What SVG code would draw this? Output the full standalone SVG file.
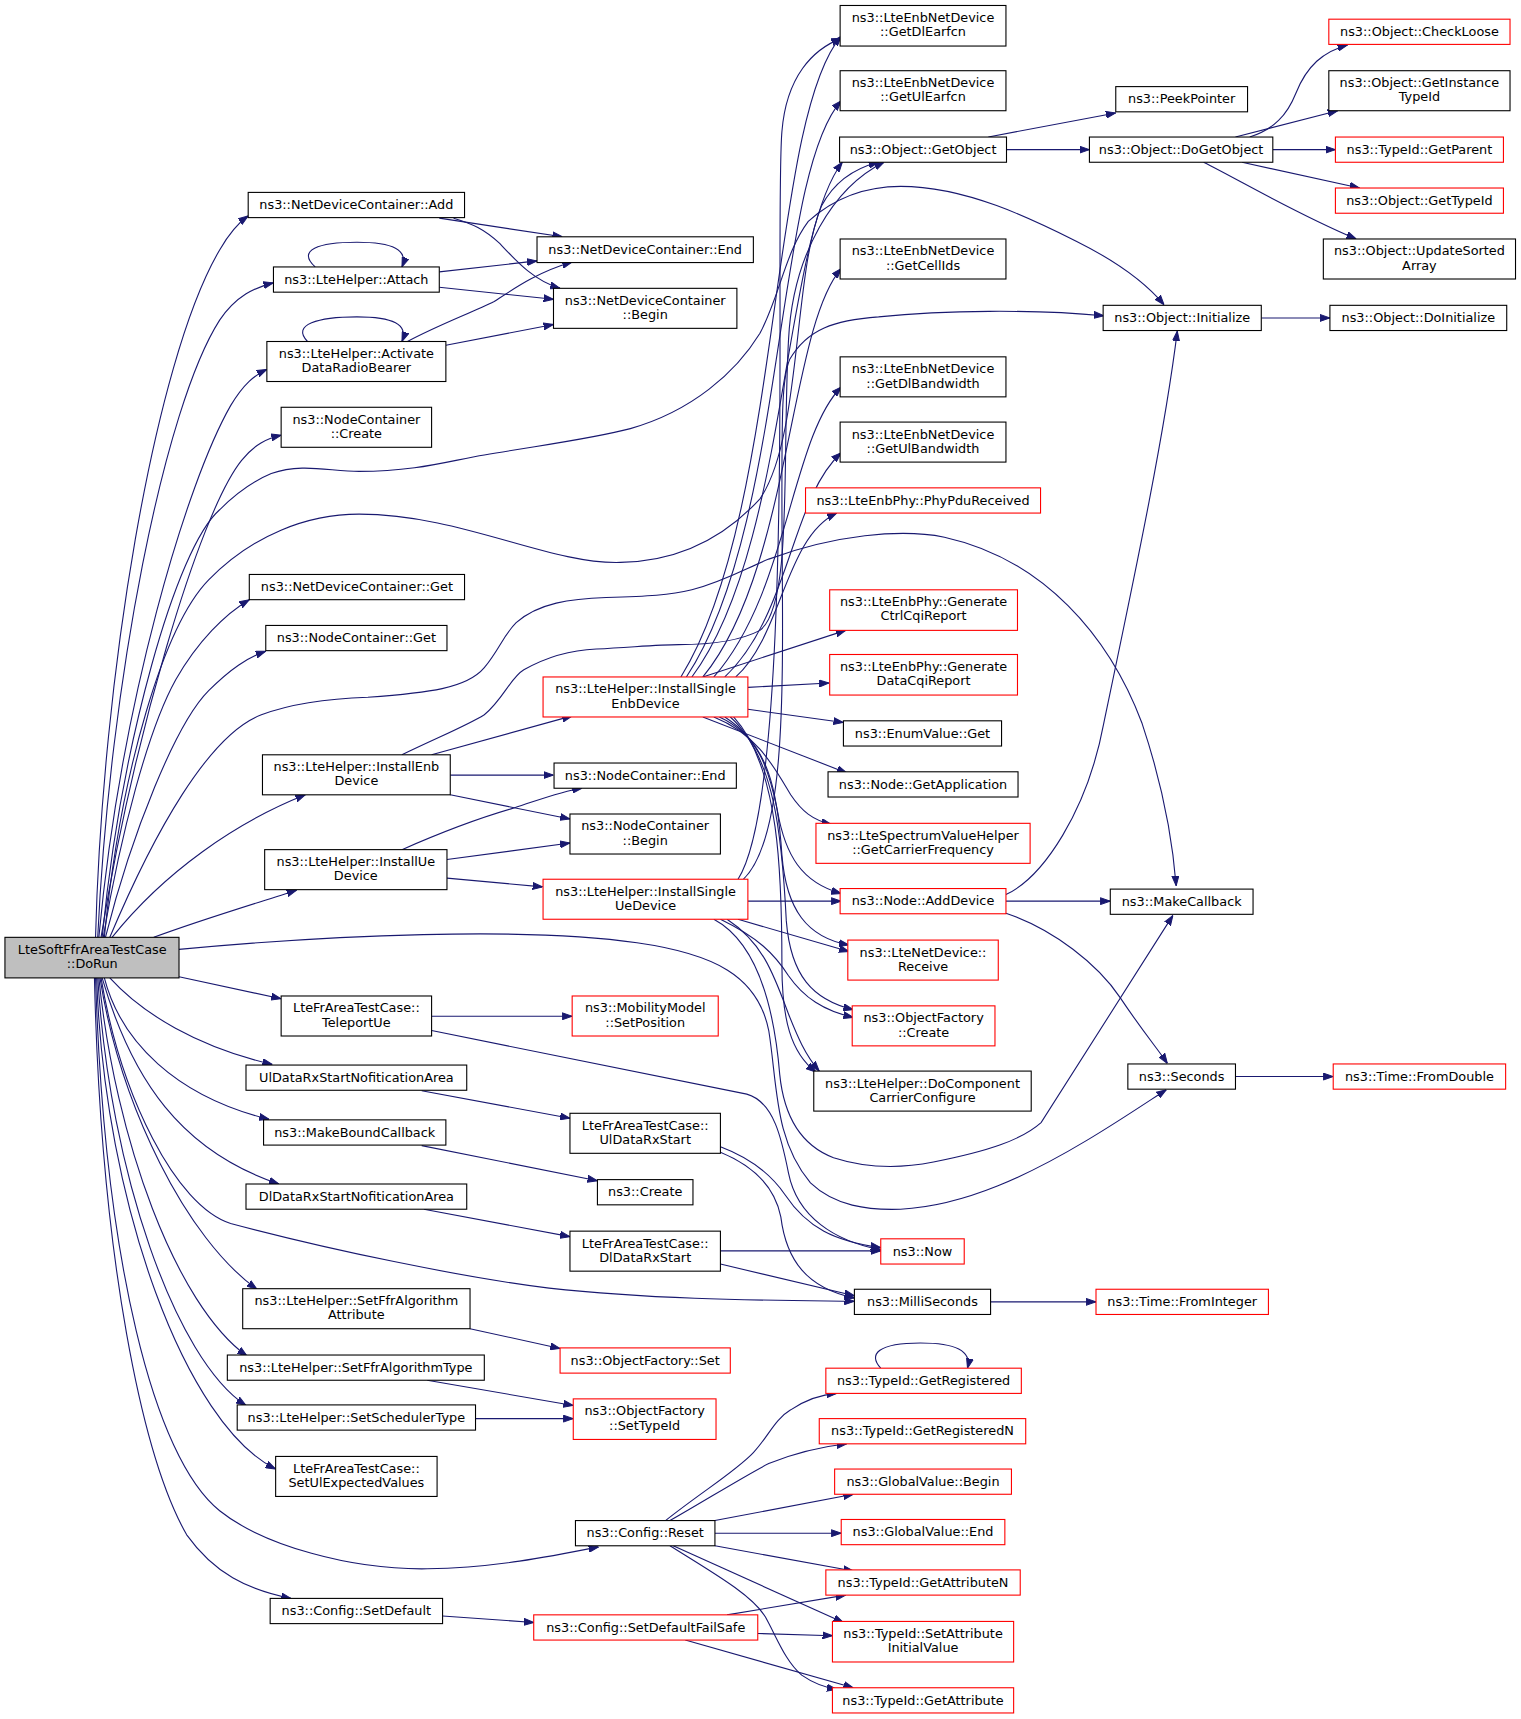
<svg xmlns="http://www.w3.org/2000/svg" width="1521" height="1719" viewBox="0 0 1521 1719">
<style>
.n rect{fill:#fff;stroke:#000;stroke-width:1}
.n.r rect{stroke:#f00}
.n.g rect{fill:#bfbfbf}
#edges path{fill:none;stroke:#191970;stroke-width:1;marker-end:url(#a)}
text{font-family:"DejaVu Sans",sans-serif;font-size:11.7px;text-anchor:middle;fill:#000}
</style>
<defs>
<marker id="a" viewBox="0 0 10 8" refX="10" refY="4" markerWidth="9" markerHeight="7.2" markerUnits="userSpaceOnUse" orient="auto">
<path d="M0,0.5 L10,4 L0,7.5z" fill="#191970" stroke="#191970" stroke-width="1"/>
</marker>
</defs>
<rect x="0" y="0" width="1521" height="1719" fill="#fff"/>
<g transform="scale(1.0982,1.0963)">
<g id="edges">
<path d="M87,855 C93,620 140,330 200,228 C208,214 216,204 226,197"/>
<path d="M89,855 C100,620 150,370 200,292 C215,270 232,262 249,258"/>
<path d="M90,855 C110,640 170,440 210,370 C222,350 232,342 243,337"/>
<path d="M92,855 C120,680 180,470 220,420 C232,405 243,400 256,397"/>
<path d="M93,855 C110,680 160,500 200,465 C220,445 235,437 247,432 C275,422 300,430 327,430 C380,430 410,420 441,415 C500,405 540,400 574,391 C630,375 670,340 692,304 C710,270 715,230 736,202 C760,180 790,170 820,170 C880,170 940,200 980,220 C1020,240 1045,260 1060,278"/>
<path d="M95,855 C110,700 150,570 190,529 C230,488 280,469 327,469 C420,469 500,515 565,513 C620,512 660,490 692,455 C730,400 722,250 748,188 C760,165 780,153 800,148"/>
<path d="M100,855 C140,760 190,670 238,652 C270,640 305,637 335,636 C390,632 425,628 441,609 C455,592 458,580 470,568 C490,550 520,546 552,545 C590,544 610,543 630,538 C660,530 680,518 700,510 C760,488 820,482 860,490 C950,510 1010,580 1040,660 C1060,720 1068,770 1071,808"/>
<path d="M94,855 C110,760 135,665 160,620 C180,585 205,560 227,547"/>
<path d="M96,855 C120,760 160,660 190,630 C210,610 225,600 242,594"/>
<path d="M102,855 C150,795 215,750 278,725"/>
<path d="M140,855 C180,840 230,825 270,812"/>
<path d="M163,891 L256,911"/>
<path d="M100,892 C130,925 180,955 248,971"/>
<path d="M95,892 C110,950 160,1000 245,1021"/>
<path d="M93,892 C120,985 165,1050 254,1080"/>
<path d="M92,892 C110,1000 160,1100 210,1116 C300,1140 420,1165 500,1175 C600,1186 700,1186 778,1187"/>
<path d="M91,892 C110,1010 170,1130 234,1176"/>
<path d="M90,892 C105,1040 160,1190 225,1237"/>
<path d="M89,892 C100,1070 160,1240 224,1282"/>
<path d="M88,892 C95,1100 170,1300 251,1340"/>
<path d="M87,892 C95,1150 140,1330 200,1378 C240,1410 320,1432 389,1431 C450,1430 500,1420 545,1411"/>
<path d="M86,892 C92,1150 130,1330 170,1400 C195,1435 225,1450 265,1458"/>
<path d="M163,866 C300,853 480,845 580,860 C650,870 690,890 700,940 C708,990 705,1040 738,1079 C760,1100 790,1104 820,1103 C880,1100 940,1070 990,1040 C1020,1022 1045,1005 1062,994"/>
<path d="M400,199 L512,216"/>
<path d="M413,199 C430,204 441,209 455,222 C470,238 486,256 510,263"/>
<path d="M287,243.5 C270,228 290,221 325,221 C358,221 372,228 366,243.5"/>
<path d="M400,248 L489,238"/>
<path d="M400,262 L504,273"/>
<path d="M280,311.5 C265,296 290,289 325,289 C358,289 372,296 366,311.5"/>
<path d="M371,311.5 C400,296 430,285 450,275 C470,262 490,248 521,239"/>
<path d="M406,315 L504,296"/>
<path d="M393,688.5 L521,653"/>
<path d="M410,707 L504,707"/>
<path d="M410,725 L519,747"/>
<path d="M366,688.5 C400,672 425,662 441,652 C458,638 465,618 477,611 C498,599 520,593 543,592 C580,590 600,588 618,588 C650,588 675,584 692,575 C722,552 712,420 718,310 C722,230 760,170 805,148"/>
<path d="M366,775 C400,760 440,745 468,737 C490,730 510,722 530,719"/>
<path d="M407,784 L519,769"/>
<path d="M407,801 L494,809"/>
<path d="M393,927 L521,927"/>
<path d="M393,940 L680,998 C705,1005 712,1040 718,1070 C726,1110 760,1132 802,1140"/>
<path d="M384,995 L519,1020"/>
<path d="M384,1045 L544,1077"/>
<path d="M386,1103 L519,1128"/>
<path d="M428,1212 L510,1230"/>
<path d="M389,1259 L522,1282"/>
<path d="M433,1294 L522,1294"/>
<path d="M403,1474 L486,1480"/>
<path d="M620,617.5 C712,470 700,110 766,33"/>
<path d="M625,617.5 C716,480 705,160 766,92"/>
<path d="M630,617.5 C718,500 712,220 767,148"/>
<path d="M640,617.5 C720,520 718,300 766,245"/>
<path d="M650,617.5 C718,540 720,400 766,353"/>
<path d="M660,617.5 C720,560 720,455 766,413"/>
<path d="M670,617.5 C712,580 715,490 762,468"/>
<path d="M640,617.5 L770,575"/>
<path d="M681,627 L755,623"/>
<path d="M681,647 L768,659"/>
<path d="M640,654 L771,705"/>
<path d="M650,654 C690,670 705,700 720,725 C730,740 740,748 757,752"/>
<path d="M655,654 C690,670 700,700 708,740 C715,780 730,805 766,815"/>
<path d="M660,654 C700,680 708,720 712,780 C716,830 735,855 773,862"/>
<path d="M665,654 C705,690 712,760 716,840 C720,890 740,912 777,921"/>
<path d="M668,654 C710,700 712,800 712,880 C712,930 720,960 743,978"/>
<path d="M681,822 L766,822"/>
<path d="M672,838.5 L773,868"/>
<path d="M656,838.5 C690,855 705,870 718,890 C732,910 750,922 777,928"/>
<path d="M662,838.5 C695,860 705,890 718,925 C726,945 733,962 746,977"/>
<path d="M650,838.5 C690,860 705,920 710,980 C714,1020 730,1045 759,1056 C790,1066 820,1066 850,1060 C900,1050 930,1040 948,1024 L1068,835"/>
<path d="M677,802 C720,760 712,600 712,450 C712,380 712,345 719,328 C735,300 760,292 800,289 C860,283 940,282 1005,288"/>
<path d="M672,802 C725,720 705,200 712,120 C716,70 740,45 766,35"/>
<path d="M656,1046 C680,1055 700,1068 715,1090 C735,1120 760,1132 802,1138"/>
<path d="M656,1051 C690,1065 706,1085 711,1110 C716,1150 735,1175 778,1184"/>
<path d="M656,1141 L802,1141"/>
<path d="M656,1153 L778,1182"/>
<path d="M900,125 L1016,103"/>
<path d="M916.5,136.5 L992,136.5"/>
<path d="M916,822 L1011,822"/>
<path d="M916,833 C960,848 1000,880 1020,910 C1040,940 1055,958 1063,970"/>
<path d="M916,816 C950,800 990,740 1005,660 C1030,540 1060,400 1072,302"/>
<path d="M902,1187.5 L998,1187.5"/>
<path d="M1125,982 L1214,982"/>
<path d="M1138,125 C1160,118 1172,105 1180,85 C1190,60 1205,47 1227,41"/>
<path d="M1125,125 L1218,101"/>
<path d="M1159,136.5 L1216,136.5"/>
<path d="M1131,148 L1238,171.5"/>
<path d="M1096,148 C1130,165 1180,195 1235,218"/>
<path d="M1148.5,290 L1211,290"/>
<path d="M606,1387 C640,1360 670,1342 686,1325 C700,1310 705,1295 720,1286 C735,1276 748,1272 762,1271"/>
<path d="M610,1387 C640,1370 680,1345 700,1335 C720,1327 745,1320 771,1317"/>
<path d="M651,1387 L777,1363"/>
<path d="M651,1398.5 L766,1398.5"/>
<path d="M651,1410 L777,1433"/>
<path d="M613,1410 L768,1480"/>
<path d="M610,1410 C650,1435 685,1455 697,1475 C708,1495 715,1515 730,1528 C740,1535 750,1539 762,1541"/>
<path d="M802,1248 C790,1235 800,1225 838,1225 C870,1225 885,1232 881,1248"/>
<path d="M662,1473 L770,1455"/>
<path d="M690,1490 L758,1492"/>
<path d="M624,1496 L777,1539.5"/>
</g>

<g id="n-dorun" class="n g"><rect x="4.5" y="855" width="158.5" height="37"/><text x="84" y="870">LteSoftFfrAreaTestCase</text><text x="84" y="883">::DoRun</text></g>

<g id="n-add" class="n"><rect x="226" y="175.5" width="197" height="23"/><text x="324.5" y="190.8">ns3::NetDeviceContainer::Add</text></g>
<g id="n-attach" class="n"><rect x="249" y="243.5" width="151" height="23"/><text x="324.5" y="258.8">ns3::LteHelper::Attach</text></g>
<g id="n-activate" class="n"><rect x="243" y="311.5" width="163" height="36.5"/><text x="324.5" y="326.5">ns3::LteHelper::Activate</text><text x="324.5" y="339.5">DataRadioBearer</text></g>
<g id="n-nccreate" class="n"><rect x="256" y="371.5" width="137" height="36.5"/><text x="324.5" y="386.5">ns3::NodeContainer</text><text x="324.5" y="399.5">::Create</text></g>
<g id="n-ndcget" class="n"><rect x="227" y="524" width="196" height="23"/><text x="325" y="539.3">ns3::NetDeviceContainer::Get</text></g>
<g id="n-ncget" class="n"><rect x="242" y="570.5" width="165" height="23"/><text x="324.5" y="585.8">ns3::NodeContainer::Get</text></g>
<g id="n-installenb" class="n"><rect x="239" y="688.5" width="171" height="36.5"/><text x="324.5" y="703.5">ns3::LteHelper::InstallEnb</text><text x="324.5" y="716.5">Device</text></g>
<g id="n-installue" class="n"><rect x="241" y="775" width="166" height="36.5"/><text x="324" y="790">ns3::LteHelper::InstallUe</text><text x="324" y="803">Device</text></g>
<g id="n-teleport" class="n"><rect x="256" y="908.5" width="137" height="36.5"/><text x="324.5" y="923.5">LteFrAreaTestCase::</text><text x="324.5" y="936.5">TeleportUe</text></g>
<g id="n-ulnotif" class="n"><rect x="224" y="971.5" width="201" height="23"/><text x="324.5" y="986.8">UlDataRxStartNofiticationArea</text></g>
<g id="n-makebound" class="n"><rect x="240" y="1021.5" width="166" height="23"/><text x="323" y="1036.8">ns3::MakeBoundCallback</text></g>
<g id="n-dlnotif" class="n"><rect x="224" y="1080" width="201" height="23"/><text x="324.5" y="1095.3">DlDataRxStartNofiticationArea</text></g>
<g id="n-setffrattr" class="n"><rect x="221" y="1175.5" width="207" height="36.5"/><text x="324.5" y="1190.5">ns3::LteHelper::SetFfrAlgorithm</text><text x="324.5" y="1203.5">Attribute</text></g>
<g id="n-setffrtype" class="n"><rect x="207" y="1236" width="234" height="23"/><text x="324" y="1251.3">ns3::LteHelper::SetFfrAlgorithmType</text></g>
<g id="n-setsched" class="n"><rect x="216" y="1281.5" width="217" height="23"/><text x="324.5" y="1296.8">ns3::LteHelper::SetSchedulerType</text></g>
<g id="n-setulexp" class="n"><rect x="251" y="1328.5" width="147" height="36.5"/><text x="324.5" y="1343.5">LteFrAreaTestCase::</text><text x="324.5" y="1356.5">SetUlExpectedValues</text></g>
<g id="n-setdefault" class="n"><rect x="246" y="1458" width="157" height="23"/><text x="324.5" y="1473.3">ns3::Config::SetDefault</text></g>

<g id="n-ndcend" class="n"><rect x="489" y="216" width="197" height="23.5"/><text x="587.5" y="231.5">ns3::NetDeviceContainer::End</text></g>
<g id="n-ndcbegin" class="n"><rect x="504" y="263" width="167" height="36.5"/><text x="587.5" y="278">ns3::NetDeviceContainer</text><text x="587.5" y="291">::Begin</text></g>
<g id="n-enbsingle" class="n r"><rect x="494.5" y="617.5" width="186.5" height="36.5"/><text x="587.8" y="632.5">ns3::LteHelper::InstallSingle</text><text x="587.8" y="645.5">EnbDevice</text></g>
<g id="n-ncend" class="n"><rect x="504.5" y="696" width="166" height="23"/><text x="587.5" y="711.3">ns3::NodeContainer::End</text></g>
<g id="n-ncbegin" class="n"><rect x="519" y="742.5" width="137" height="36.5"/><text x="587.5" y="757.5">ns3::NodeContainer</text><text x="587.5" y="770.5">::Begin</text></g>
<g id="n-uesingle" class="n r"><rect x="494.5" y="802" width="186.5" height="36.5"/><text x="587.8" y="817">ns3::LteHelper::InstallSingle</text><text x="587.8" y="830">UeDevice</text></g>
<g id="n-setpos" class="n r"><rect x="521" y="908.5" width="133" height="36.5"/><text x="587.5" y="923.5">ns3::MobilityModel</text><text x="587.5" y="936.5">::SetPosition</text></g>
<g id="n-ulrxstart" class="n"><rect x="519" y="1015.5" width="137" height="36.5"/><text x="587.5" y="1030.5">LteFrAreaTestCase::</text><text x="587.5" y="1043.5">UlDataRxStart</text></g>
<g id="n-create" class="n"><rect x="544" y="1076" width="87" height="23"/><text x="587.5" y="1091.3">ns3::Create</text></g>
<g id="n-dlrxstart" class="n"><rect x="519" y="1123" width="137" height="36.5"/><text x="587.5" y="1138">LteFrAreaTestCase::</text><text x="587.5" y="1151">DlDataRxStart</text></g>
<g id="n-ofset" class="n r"><rect x="510" y="1229.5" width="155" height="23"/><text x="587.5" y="1244.8">ns3::ObjectFactory::Set</text></g>
<g id="n-ofsettypeid" class="n r"><rect x="522" y="1276" width="130" height="37"/><text x="587" y="1291">ns3::ObjectFactory</text><text x="587" y="1304">::SetTypeId</text></g>
<g id="n-reset" class="n"><rect x="524" y="1387" width="127" height="23"/><text x="587.5" y="1402.3">ns3::Config::Reset</text></g>
<g id="n-failsafe" class="n r"><rect x="486" y="1473" width="204" height="23"/><text x="588" y="1488.3">ns3::Config::SetDefaultFailSafe</text></g>

<g id="n-getdlearfcn" class="n"><rect x="765" y="5" width="151" height="37"/><text x="840.5" y="20">ns3::LteEnbNetDevice</text><text x="840.5" y="33">::GetDlEarfcn</text></g>
<g id="n-getulearfcn" class="n"><rect x="765" y="64.5" width="151" height="36.5"/><text x="840.5" y="79.5">ns3::LteEnbNetDevice</text><text x="840.5" y="92.5">::GetUlEarfcn</text></g>
<g id="n-getobject" class="n"><rect x="764.5" y="125" width="152" height="23"/><text x="840.5" y="140.3">ns3::Object::GetObject</text></g>
<g id="n-getcellids" class="n"><rect x="765" y="218" width="151" height="36.5"/><text x="840.5" y="233">ns3::LteEnbNetDevice</text><text x="840.5" y="246">::GetCellIds</text></g>
<g id="n-getdlbw" class="n"><rect x="765" y="325.5" width="151" height="36.5"/><text x="840.5" y="340.5">ns3::LteEnbNetDevice</text><text x="840.5" y="353.5">::GetDlBandwidth</text></g>
<g id="n-getulbw" class="n"><rect x="765" y="385" width="151" height="36.5"/><text x="840.5" y="400">ns3::LteEnbNetDevice</text><text x="840.5" y="413">::GetUlBandwidth</text></g>
<g id="n-phypdu" class="n r"><rect x="733.5" y="445" width="214" height="23"/><text x="840.5" y="460.3">ns3::LteEnbPhy::PhyPduReceived</text></g>
<g id="n-ctrlcqi" class="n r"><rect x="755.5" y="538" width="171" height="37"/><text x="841" y="553">ns3::LteEnbPhy::Generate</text><text x="841" y="566">CtrlCqiReport</text></g>
<g id="n-datacqi" class="n r"><rect x="755.5" y="597" width="171" height="37"/><text x="841" y="612">ns3::LteEnbPhy::Generate</text><text x="841" y="625">DataCqiReport</text></g>
<g id="n-enumget" class="n"><rect x="768" y="657.5" width="144" height="23"/><text x="840" y="672.8">ns3::EnumValue::Get</text></g>
<g id="n-getapp" class="n"><rect x="754" y="704" width="173" height="23"/><text x="840.5" y="719.3">ns3::Node::GetApplication</text></g>
<g id="n-carrierfreq" class="n r"><rect x="743" y="751" width="195" height="36.5"/><text x="840.5" y="766">ns3::LteSpectrumValueHelper</text><text x="840.5" y="779">::GetCarrierFrequency</text></g>
<g id="n-adddevice" class="n r"><rect x="765" y="810.5" width="151" height="23"/><text x="840.5" y="825.8">ns3::Node::AddDevice</text></g>
<g id="n-receive" class="n r"><rect x="772" y="857.5" width="137" height="36.5"/><text x="840.5" y="872.5">ns3::LteNetDevice::</text><text x="840.5" y="885.5">Receive</text></g>
<g id="n-ofcreate" class="n r"><rect x="776" y="917.5" width="130" height="36.5"/><text x="841" y="932.5">ns3::ObjectFactory</text><text x="841" y="945.5">::Create</text></g>
<g id="n-docc" class="n"><rect x="741" y="977" width="198" height="36.5"/><text x="840" y="992">ns3::LteHelper::DoComponent</text><text x="840" y="1005">CarrierConfigure</text></g>
<g id="n-now" class="n r"><rect x="802" y="1130" width="76" height="23"/><text x="840" y="1145.3">ns3::Now</text></g>
<g id="n-milliseconds" class="n"><rect x="778" y="1176" width="124" height="23"/><text x="840" y="1191.3">ns3::MilliSeconds</text></g>
<g id="n-getregistered" class="n r"><rect x="752" y="1248" width="178" height="23"/><text x="841" y="1263.3">ns3::TypeId::GetRegistered</text></g>
<g id="n-getregisteredn" class="n r"><rect x="746" y="1294" width="188" height="23"/><text x="840" y="1309.3">ns3::TypeId::GetRegisteredN</text></g>
<g id="n-gvbegin" class="n r"><rect x="760" y="1340" width="161" height="23"/><text x="840.5" y="1355.3">ns3::GlobalValue::Begin</text></g>
<g id="n-gvend" class="n r"><rect x="766" y="1386" width="149" height="23"/><text x="840.5" y="1401.3">ns3::GlobalValue::End</text></g>
<g id="n-getattrn" class="n r"><rect x="752" y="1432" width="177" height="23"/><text x="840.5" y="1447.3">ns3::TypeId::GetAttributeN</text></g>
<g id="n-setattrinit" class="n r"><rect x="758" y="1479" width="165" height="37"/><text x="840.5" y="1494">ns3::TypeId::SetAttribute</text><text x="840.5" y="1507">InitialValue</text></g>
<g id="n-getattr" class="n r"><rect x="758" y="1539.5" width="165" height="23"/><text x="840.5" y="1554.8">ns3::TypeId::GetAttribute</text></g>

<g id="n-peekpointer" class="n"><rect x="1016" y="79" width="120" height="23"/><text x="1076" y="94.3">ns3::PeekPointer</text></g>
<g id="n-dogetobject" class="n"><rect x="992" y="125" width="167" height="23"/><text x="1075.5" y="140.3">ns3::Object::DoGetObject</text></g>
<g id="n-initialize" class="n"><rect x="1004.5" y="278.5" width="144" height="23"/><text x="1076.5" y="293.8">ns3::Object::Initialize</text></g>
<g id="n-makecallback" class="n"><rect x="1011" y="811" width="130" height="23"/><text x="1076" y="826.3">ns3::MakeCallback</text></g>
<g id="n-seconds" class="n"><rect x="1027" y="970.5" width="98" height="23"/><text x="1076" y="985.8">ns3::Seconds</text></g>
<g id="n-frominteger" class="n r"><rect x="998" y="1176" width="157" height="23"/><text x="1076.5" y="1191.3">ns3::Time::FromInteger</text></g>

<g id="n-checkloose" class="n r"><rect x="1210" y="17.5" width="165" height="23"/><text x="1292.5" y="32.8">ns3::Object::CheckLoose</text></g>
<g id="n-getinstancetypeid" class="n"><rect x="1210" y="64.5" width="165" height="36.5"/><text x="1292.5" y="79.5">ns3::Object::GetInstance</text><text x="1292.5" y="92.5">TypeId</text></g>
<g id="n-getparent" class="n r"><rect x="1216" y="125" width="153" height="23"/><text x="1292.5" y="140.3">ns3::TypeId::GetParent</text></g>
<g id="n-gettypeid" class="n r"><rect x="1216" y="171.5" width="153" height="23"/><text x="1292.5" y="186.8">ns3::Object::GetTypeId</text></g>
<g id="n-updatesorted" class="n"><rect x="1205" y="218" width="175" height="36.5"/><text x="1292.5" y="233">ns3::Object::UpdateSorted</text><text x="1292.5" y="246">Array</text></g>
<g id="n-doinitialize" class="n"><rect x="1211" y="278.5" width="161" height="23"/><text x="1291.5" y="293.8">ns3::Object::DoInitialize</text></g>
<g id="n-fromdouble" class="n r"><rect x="1214" y="970.5" width="157" height="23"/><text x="1292.5" y="985.8">ns3::Time::FromDouble</text></g>
</g>
</svg>
